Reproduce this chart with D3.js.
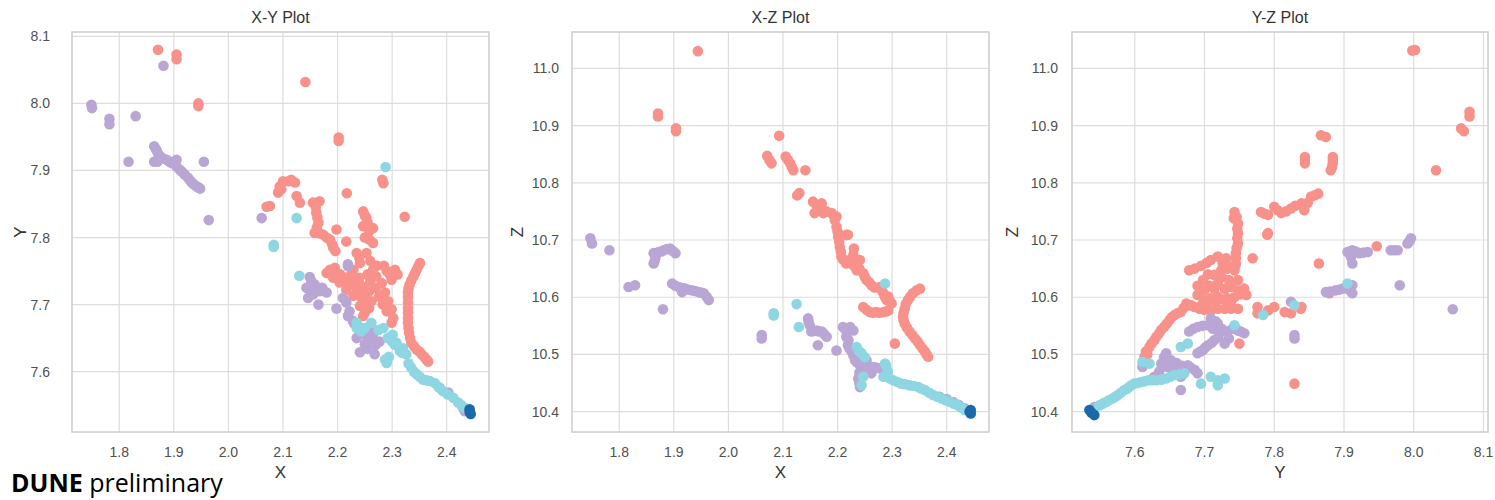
<!DOCTYPE html>
<html>
<head>
<meta charset="utf-8">
<script src="https://cdn.jsdelivr.net/npm/d3@7"></script>
<style>
  body { margin: 0; background: #fff; }
  text { font-family: "Liberation Sans", Arial, sans-serif; }
</style>
</head>
<body>
<div class="container"></div>
<script>
// tick values
let xTicks = [1.8, 1.9, 2.0, 2.1, 2.2, 2.3, 2.4]
let yTicks = [7.6, 7.7, 7.8, 7.9, 8.0, 8.1]
let zTicks = [10.4, 10.5, 10.6, 10.7, 10.8, 10.9, 11.0]
let xDomain = [1.7134, 2.4775]
let yDomain = [7.510, 8.1065]
let zDomain = [10.3645, 11.0635]

// X-Y projection
let xyRed = [[1.871,8.080],[1.905,8.073],[1.905,8.066],[1.945,8.000],[1.945,7.996],[2.141,8.032],[2.202,7.949],[2.202,7.944],[2.217,7.866],[2.282,7.886],[2.284,7.881],[2.323,7.831],
  [2.110,7.884],[2.122,7.882],[2.094,7.876],[2.091,7.867],[2.076,7.847],[2.070,7.846],[2.125,7.862],[2.131,7.852],[2.100,7.884],[2.115,7.886],[2.097,7.872],
  [2.155,7.852],[2.167,7.854],[2.161,7.837],[2.165,7.822],[2.158,7.807],[2.174,7.804],[2.186,7.797],[2.192,7.785],[2.198,7.812],[2.216,7.794],
  [2.160,7.845],[2.163,7.830],[2.162,7.815],[2.168,7.806],[2.180,7.800],[2.190,7.790],[2.196,7.780],
  [2.247,7.839],[2.253,7.829],[2.247,7.817],[2.265,7.814],[2.250,7.800],[2.265,7.792],[2.250,7.833],[2.255,7.822],[2.258,7.810],[2.258,7.797],
  [2.186,7.752],[2.198,7.747],[2.192,7.740],[2.210,7.737],[2.235,7.777],[2.253,7.777],[2.241,7.762],[2.229,7.752],[2.222,7.730],[2.235,7.722],[2.247,7.727],[2.244,7.710],[2.253,7.703],[2.250,7.688],
  [2.265,7.752],[2.271,7.742],[2.281,7.732],[2.287,7.718],[2.293,7.705],[2.299,7.693],[2.302,7.680],[2.299,7.673],[2.290,7.750],[2.305,7.752],[2.299,7.737],
  [2.180,7.747],[2.204,7.733],[2.216,7.722],[2.229,7.713],[2.241,7.698],[2.247,7.683],[2.183,7.747],
  [2.195,7.755],[2.205,7.745],[2.215,7.740],[2.225,7.745],[2.232,7.735],[2.240,7.740],[2.255,7.745],[2.260,7.735],[2.258,7.720],[2.262,7.705],[2.270,7.725],[2.276,7.712],[2.283,7.700],[2.290,7.690],
  [2.240,7.720],[2.250,7.715],[2.258,7.695],[2.240,7.770],[2.260,7.765],[2.272,7.758],[2.285,7.758],[2.296,7.745],[2.310,7.745],
  [2.351,7.762],[2.345,7.752],[2.339,7.742],[2.332,7.730],[2.329,7.718],[2.329,7.703],[2.329,7.688],[2.329,7.673],[2.331,7.658],[2.335,7.643],[2.345,7.633],[2.354,7.626],[2.363,7.618],
  [2.348,7.757],[2.342,7.747],[2.335,7.736],[2.330,7.724],[2.329,7.711],[2.329,7.695],[2.329,7.680],[2.330,7.665],[2.333,7.650],[2.340,7.638],[2.350,7.630],[2.359,7.622],[2.366,7.615]]
let xyViolet = [[1.749,7.998],[1.750,7.993],[1.782,7.977],[1.782,7.969],[1.830,7.981],[1.817,7.913],[1.881,8.056],
  [1.864,7.936],[1.869,7.929],[1.864,7.913],[1.875,7.921],[1.887,7.916],[1.896,7.911],[1.905,7.916],[1.905,7.906],[1.911,7.901],[1.920,7.894],[1.926,7.889],[1.933,7.882],[1.942,7.876],[1.948,7.873],[1.955,7.913],[1.964,7.826],[2.061,7.829],
  [1.867,7.932],[1.872,7.924],[1.880,7.918],[1.892,7.913],[1.900,7.911],[1.915,7.898],[1.930,7.885],[1.937,7.879],[1.945,7.875],[1.870,7.913],
  [2.149,7.741],[2.143,7.725],[2.158,7.730],[2.167,7.720],[2.180,7.718],[2.146,7.710],[2.165,7.700],[2.198,7.694],[2.210,7.710],[2.219,7.757],[2.219,7.760],[2.222,7.690],[2.219,7.683],[2.216,7.703],[2.228,7.676],
  [2.152,7.735],[2.160,7.722],[2.172,7.725],[2.155,7.715],[2.150,7.728],
  [2.241,7.663],[2.253,7.653],[2.265,7.655],[2.277,7.645],[2.250,7.641],[2.241,7.629],[2.268,7.626],[2.259,7.668],
  [2.230,7.672],[2.246,7.658],[2.258,7.648],[2.270,7.640],[2.255,7.634],[2.262,7.660],[2.235,7.650],
  [2.387,7.576],[2.403,7.569],[2.430,7.546],[2.433,7.541]]
let xyCyan = [[2.288,7.905],[2.125,7.829],[2.083,7.789],[2.083,7.786],[2.130,7.743],
  [2.235,7.673],[2.235,7.665],[2.238,7.668],[2.262,7.673],[2.284,7.665],[2.299,7.653],[2.301,7.655],[2.308,7.643],[2.314,7.631],[2.326,7.626],[2.320,7.635],[2.300,7.645],
  [2.243,7.660],[2.250,7.665],[2.275,7.662],[2.292,7.650],[2.305,7.640],[2.318,7.628],[2.294,7.622],
  [2.287,7.618],[2.290,7.613],[2.335,7.606],[2.345,7.596],[2.357,7.588],[2.369,7.586],[2.378,7.583],[2.393,7.571],[2.412,7.561],[2.421,7.554],[2.433,7.546],
  [2.330,7.612],[2.340,7.600],[2.351,7.592],[2.363,7.587],[2.385,7.577],[2.402,7.566],[2.427,7.550]]
let xyNavy = [[2.442,7.544],[2.442,7.540],[2.444,7.537]]

// X-Z projection
let xzRed = [[1.944,11.030],[1.871,10.921],[1.871,10.916],[1.904,10.895],[1.904,10.890],[2.093,10.882],[2.071,10.847],[2.079,10.834],[2.075,10.840],
  [2.105,10.846],[2.113,10.834],[2.119,10.822],[2.109,10.840],[2.116,10.828],[2.141,10.822],[2.126,10.778],[2.130,10.782],
  [2.155,10.767],[2.158,10.747],[2.171,10.764],[2.174,10.747],[2.189,10.747],[2.198,10.741],[2.219,10.709],[2.168,10.758],[2.230,10.685],
  [2.192,10.744],[2.198,10.723],[2.201,10.706],[2.204,10.688],[2.216,10.709],[2.207,10.671],[2.216,10.659],[2.229,10.674],[2.241,10.665],[2.235,10.647],[2.247,10.642],[2.253,10.630],[2.262,10.621],
  [2.162,10.760],[2.180,10.750],[2.195,10.735],[2.200,10.715],[2.203,10.697],[2.206,10.680],[2.210,10.666],[2.222,10.665],[2.230,10.655],[2.240,10.650],[2.250,10.636],[2.258,10.626],[2.268,10.617],
  [2.277,10.618],[2.293,10.601],[2.284,10.607],[2.290,10.595],[2.299,10.589],[2.287,10.600],[2.296,10.593],[2.281,10.612],
  [2.247,10.583],[2.259,10.574],[2.271,10.574],[2.284,10.574],[2.293,10.577],[2.253,10.578],[2.265,10.573],[2.277,10.573],[2.289,10.575],
  [2.351,10.615],[2.338,10.607],[2.329,10.595],[2.323,10.580],[2.320,10.566],[2.323,10.554],[2.332,10.540],[2.342,10.528],[2.351,10.516],[2.360,10.505],[2.366,10.496],[2.305,10.519],
  [2.345,10.612],[2.333,10.601],[2.325,10.588],[2.321,10.573],[2.321,10.560],[2.327,10.547],[2.337,10.534],[2.347,10.522],[2.356,10.510],[2.363,10.500]]
let xzViolet = [[1.747,10.703],[1.750,10.694],[1.782,10.682],[1.863,10.677],[1.872,10.679],[1.881,10.682],[1.893,10.685],[1.903,10.677],[1.866,10.668],[1.863,10.659],
  [1.868,10.675],[1.877,10.680],[1.887,10.684],[1.898,10.681],[1.865,10.664],
  [1.817,10.618],[1.829,10.621],[1.897,10.624],[1.909,10.618],[1.921,10.615],[1.933,10.612],[1.945,10.609],[1.955,10.607],[1.964,10.595],[1.915,10.609],[1.880,10.579],
  [1.903,10.620],[1.915,10.616],[1.927,10.613],[1.939,10.611],[1.950,10.608],[1.960,10.601],
  [2.061,10.534],[2.061,10.528],
  [2.146,10.563],[2.149,10.551],[2.152,10.540],[2.162,10.542],[2.171,10.540],[2.180,10.531],[2.164,10.516],[2.198,10.507],
  [2.147,10.557],[2.157,10.541],[2.166,10.540],[2.175,10.536],
  [2.210,10.548],[2.223,10.548],[2.229,10.542],[2.216,10.531],[2.219,10.516],[2.226,10.505],[2.232,10.490],[2.241,10.481],[2.253,10.478],[2.265,10.478],[2.277,10.476],[2.290,10.473],[2.238,10.458],[2.241,10.443],[2.253,10.490],[2.262,10.467],
  [2.213,10.545],[2.218,10.540],[2.220,10.525],[2.222,10.510],[2.229,10.498],[2.236,10.486],[2.247,10.480],[2.259,10.478],[2.271,10.477],[2.283,10.475],[2.240,10.468],[2.240,10.450],[2.257,10.472],
  [2.387,10.426],[2.400,10.422],[2.412,10.417],[2.422,10.412],[2.433,10.406]]
let xzCyan = [[2.287,10.624],[2.125,10.588],[2.083,10.572],[2.083,10.568],[2.129,10.548],[2.235,10.513],[2.244,10.502],[2.287,10.484],[2.284,10.461],[2.244,10.446],[2.247,10.461],[2.240,10.505],[2.250,10.495],
  [2.302,10.455],[2.317,10.449],[2.332,10.446],[2.348,10.443],[2.360,10.438],[2.375,10.429],[2.391,10.423],[2.406,10.417],[2.421,10.411],[2.433,10.403],
  [2.296,10.458],[2.310,10.452],[2.324,10.448],[2.340,10.445],[2.354,10.440],[2.368,10.433],[2.383,10.426],[2.398,10.420],[2.413,10.414],[2.427,10.407],[2.292,10.470],[2.289,10.480]]
let xzNavy = [[2.444,10.397],[2.444,10.403],[2.442,10.400]]

// Y-Z projection
let yzRed = [[7.998,11.031],[8.002,11.032],[8.080,10.924],[8.080,10.916],[8.068,10.895],[8.072,10.890],[8.032,10.822],[7.867,10.883],[7.874,10.880],
  [7.844,10.845],[7.844,10.834],[7.844,10.840],[7.884,10.845],[7.884,10.834],[7.884,10.840],[7.883,10.828],[7.881,10.822],[7.790,10.709],
  [7.743,10.749],[7.748,10.729],[7.748,10.712],[7.748,10.694],[7.745,10.677],[7.745,10.659],[7.743,10.647],
  [7.746,10.740],[7.747,10.720],[7.747,10.703],[7.746,10.686],[7.745,10.668],[7.744,10.655],[7.742,10.738],
  [7.781,10.749],[7.791,10.744],[7.800,10.758],[7.810,10.747],[7.824,10.755],[7.839,10.764],[7.843,10.752],[7.853,10.776],[7.863,10.781],[7.791,10.712],
  [7.786,10.746],[7.805,10.752],[7.817,10.750],[7.830,10.760],[7.848,10.765],[7.858,10.778],
  [7.709,10.665],[7.719,10.671],[7.731,10.668],[7.738,10.653],[7.724,10.647],[7.714,10.639],[7.698,10.630],[7.686,10.650],[7.678,10.647],[7.769,10.668],[7.748,10.630],
  [7.695,10.655],[7.703,10.660],[7.726,10.660],[7.733,10.650],[7.705,10.640],[7.725,10.635],[7.735,10.630],[7.714,10.615],[7.700,10.612],[7.707,10.620],[7.690,10.620],
  [7.719,10.624],[7.729,10.615],[7.738,10.618],[7.748,10.612],[7.757,10.615],[7.760,10.604],
  [7.690,10.604],[7.700,10.595],[7.709,10.598],[7.719,10.601],[7.729,10.595],[7.738,10.592],[7.748,10.580],[7.674,10.589],[7.681,10.586],[7.693,10.580],[7.709,10.577],[7.729,10.580],
  [7.686,10.583],[7.697,10.588],[7.704,10.592],[7.714,10.594],[7.724,10.597],[7.733,10.598],[7.743,10.600],[7.752,10.605],[7.700,10.578],[7.719,10.580],[7.738,10.580],
  [7.666,10.574],[7.657,10.569],[7.650,10.560],[7.642,10.548],[7.635,10.537],[7.628,10.525],[7.621,10.513],[7.616,10.505],[7.614,10.496],
  [7.618,10.500],[7.624,10.519],[7.631,10.531],[7.638,10.543],[7.646,10.554],[7.653,10.565],[7.661,10.572],[7.670,10.581],[7.678,10.586],
  [7.776,10.583],[7.776,10.572],[7.791,10.577],[7.800,10.583],[7.815,10.574],[7.824,10.572],[7.839,10.583],
  [7.750,10.519],[7.829,10.449],[7.864,10.659],[7.947,10.689],[7.879,10.607],[7.838,10.580]]
let yzViolet = [[7.678,10.540],[7.690,10.548],[7.705,10.551],[7.709,10.563],[7.719,10.554],[7.721,10.537],[7.733,10.540],[7.748,10.542],[7.757,10.537],[7.714,10.525],[7.705,10.516],[7.698,10.508],[7.690,10.502],[7.729,10.519],
  [7.684,10.545],[7.697,10.550],[7.712,10.545],[7.725,10.545],[7.740,10.545],[7.752,10.540],[7.720,10.530],[7.710,10.520],[7.701,10.512],[7.694,10.505],[7.735,10.528],[7.716,10.558],
  [7.645,10.502],[7.652,10.490],[7.638,10.484],[7.647,10.478],[7.657,10.481],[7.676,10.481],[7.686,10.473],[7.628,10.461],[7.666,10.461],[7.666,10.438],[7.690,10.467],[7.611,10.478],[7.542,10.408],
  [7.642,10.495],[7.648,10.488],[7.660,10.485],[7.668,10.480],[7.680,10.477],[7.635,10.470],[7.655,10.470],
  [7.874,10.609],[7.888,10.612],[7.898,10.615],[7.912,10.621],[7.912,10.607],[7.880,10.610],[7.893,10.613],[7.905,10.618],[7.908,10.612],
  [7.905,10.679],[7.912,10.682],[7.922,10.677],[7.934,10.679],[7.912,10.659],[7.908,10.680],[7.917,10.680],[7.928,10.678],[7.910,10.670],
  [7.967,10.682],[7.972,10.682],[7.977,10.682],[7.991,10.694],[7.994,10.698],[7.996,10.703],[7.980,10.621],[8.056,10.579],[7.824,10.592],[7.829,10.534],[7.829,10.528]]
let yzCyan = [[7.549,10.411],[7.559,10.417],[7.568,10.423],[7.576,10.429],[7.585,10.438],[7.592,10.443],[7.599,10.449],[7.609,10.452],[7.619,10.455],[7.631,10.455],[7.645,10.458],[7.657,10.464],[7.671,10.467],
  [7.554,10.414],[7.563,10.420],[7.572,10.426],[7.580,10.433],[7.589,10.440],[7.595,10.446],[7.604,10.450],[7.614,10.453],[7.625,10.455],[7.638,10.456],[7.651,10.461],[7.664,10.465],
  [7.695,10.449],[7.709,10.461],[7.719,10.455],[7.729,10.458],[7.719,10.446],
  [7.611,10.487],[7.621,10.484],[7.666,10.513],[7.676,10.519],[7.743,10.551],[7.784,10.569],[7.829,10.586],[7.905,10.624]]
let yzNavy = [[7.535,10.403],[7.542,10.394],[7.538,10.398]]

let colors = ["#f9918b", "#b9a6d5", "#8dd6e2", "#1a69a9"]

let width = 1495
let height = 500
let plotTop = 32
let plotBottom = 432

let panels = [
  { title: "X-Y Plot", xLab: "X", yLab: "Y", left: 72, right: 489, labX: 20, tickX: 50,
    xd: xDomain, yd: yDomain, xt: xTicks, yt: yTicks, series: [xyRed, xyViolet, xyCyan, xyNavy] },
  { title: "X-Z Plot", xLab: "X", yLab: "Z", left: 572, right: 989, labX: 517, tickX: 559,
    xd: xDomain, yd: zDomain, xt: xTicks, yt: zTicks, series: [xzRed, xzViolet, xzCyan, xzNavy] },
  { title: "Y-Z Plot", xLab: "Y", yLab: "Z", left: 1072, right: 1488, labX: 1012, tickX: 1058,
    xd: yDomain, yd: zDomain, xt: yTicks, yt: zTicks, series: [yzRed, yzViolet, yzCyan, yzNavy] }
]

let svg = d3.select(".container")
  .append("svg")
  .attr("width", width)
  .attr("height", height)

let fmt = d3.format(".1f")

panels.forEach(function (p) {
  let x = d3.scaleLinear().domain(p.xd).range([p.left, p.right])
  let y = d3.scaleLinear().domain(p.yd).range([plotBottom, plotTop])
  let g = svg.append("g")

  // grid
  g.selectAll(".vgrid").data(p.xt).enter().append("line")
    .attr("x1", d => x(d)).attr("x2", d => x(d))
    .attr("y1", plotTop).attr("y2", plotBottom)
    .attr("stroke", "#dddddd").attr("stroke-width", 1.2)
  g.selectAll(".hgrid").data(p.yt).enter().append("line")
    .attr("y1", d => y(d)).attr("y2", d => y(d))
    .attr("x1", p.left).attr("x2", p.right)
    .attr("stroke", "#dddddd").attr("stroke-width", 1.2)

  // points, one layer per cluster
  p.series.forEach(function (pts, i) {
    g.selectAll(null).data(pts).enter().append("circle")
      .attr("cx", d => x(d[0]))
      .attr("cy", d => y(d[1]))
      .attr("r", 5.3)
      .style("fill", colors[i])
  })

  // frame
  g.append("rect")
    .attr("x", p.left).attr("y", plotTop)
    .attr("width", p.right - p.left).attr("height", plotBottom - plotTop)
    .attr("fill", "none").attr("stroke", "#cccccc").attr("stroke-width", 1.5)

  // tick labels
  g.selectAll(".xt").data(p.xt).enter().append("text")
    .attr("x", d => x(d)).attr("y", 457)
    .attr("text-anchor", "middle")
    .attr("font-size", "14px").attr("fill", "#505050")
    .text(d => fmt(d))
  g.selectAll(".yt").data(p.yt).enter().append("text")
    .attr("x", p.tickX).attr("y", d => y(d) + 5)
    .attr("text-anchor", "end")
    .attr("font-size", "14px").attr("fill", "#505050")
    .text(d => fmt(d))

  // labels
  g.append("text")
    .attr("x", (p.left + p.right) / 2).attr("y", 23)
    .attr("text-anchor", "middle")
    .attr("font-size", "16px").attr("fill", "#333")
    .text(p.title)
  g.append("text")
    .attr("x", (p.left + p.right) / 2).attr("y", 478)
    .attr("text-anchor", "middle")
    .attr("font-size", "17px").attr("fill", "#333")
    .text(p.xLab)
  g.append("text")
    .attr("transform", `translate(${p.labX + 6},${(plotTop + plotBottom) / 2}) rotate(-90)`)
    .attr("text-anchor", "middle")
    .attr("font-size", "17px").attr("fill", "#333")
    .text(p.yLab)
})

let dune = svg.append("text")
  .attr("x", 11).attr("y", 492)
  .style("font-family", "'Open Sans', sans-serif")
  .attr("font-size", "25px").attr("fill", "#000")
dune.append("tspan").attr("font-weight", "bold").text("DUNE")
dune.append("tspan").text(" preliminary")
</script>
</body>
</html>
